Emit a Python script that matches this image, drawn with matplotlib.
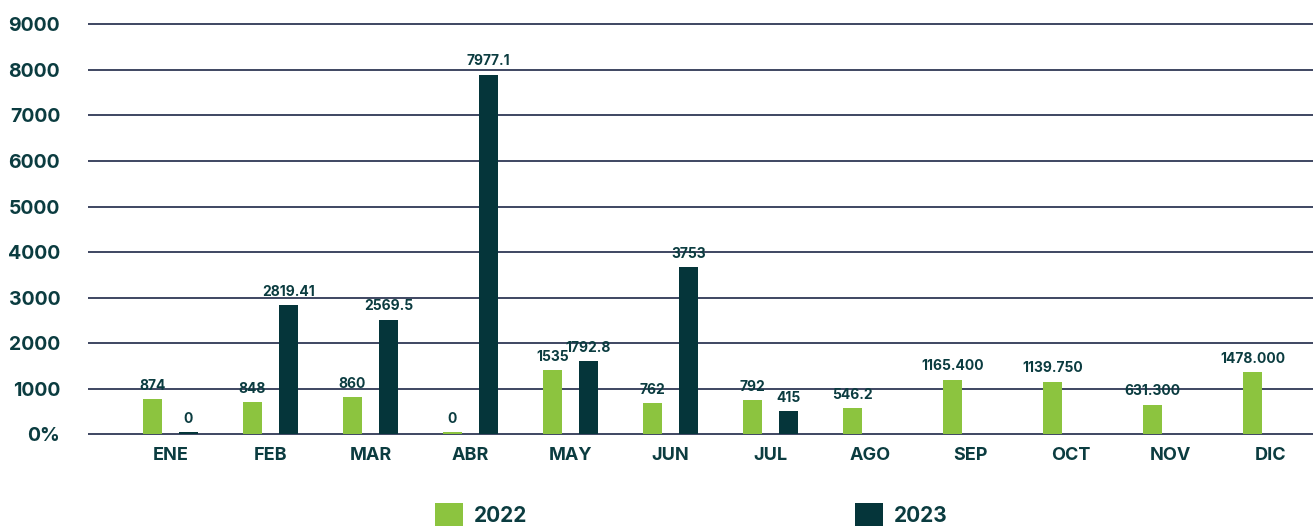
import matplotlib
matplotlib.use("Agg")
import matplotlib.pyplot as plt
import numpy as np

months = ["ENE", "FEB", "MAR", "ABR", "MAY", "JUN", "JUL", "AGO", "SEP", "OCT", "NOV", "DIC"]
# bar heights as drawn in the picture
values_2022 = [775, 709, 818, 50, 1410, 686, 752, 577, 1198, 1155, 651, 1370]
values_2023 = [55, 2834, 2516, 7895, 1598, 3677, 511]
# value labels as printed on the picture
labels_2022 = ["874", "848", "860", "0", "1535", "762", "792", "546.2",
               "1165.400", "1139.750", "631.300", "1478.000"]
labels_2023 = ["0", "2819.41", "2569.5", "7977.1", "1792.8", "3753", "415"]
yticks = [0, 1000, 2000, 3000, 4000, 5000, 6000, 7000, 8000, 9000]
ytick_labels = ["0%", "1000", "2000", "3000", "4000", "5000", "6000", "7000", "8000", "9000"]
series_names = ["2022", "2023"]

GREEN = "#8cc43f"
DARK = "#05353a"
TEXT = "#0b3c40"
GRID = "#1e2747"

plt.rcParams['font.family'] = ['Inter', 'DejaVu Sans']

fig = plt.figure(figsize=(13.13, 5.26), dpi=100)
ax = fig.add_axes([88 / 1313, 89.9 / 526, 1 - 88 / 1313, (436.1 - 22.5) / 526])

x = np.arange(len(months))
off = 0.18
w = 0.19
b1 = ax.bar(x[:len(values_2022)] - off, values_2022, width=w, color=GREEN, label=series_names[0], zorder=3)
b2 = ax.bar(x[:len(values_2023)] + off, values_2023, width=w, color=DARK, label=series_names[1], zorder=3)

ax.bar_label(b1, labels=labels_2022, padding=4.5, fontsize=10, fontweight='bold', color=TEXT)
ax.bar_label(b2, labels=labels_2023, padding=4.5, fontsize=10, fontweight='bold', color=TEXT)

ax.set_xlim(-0.825, 11.425)
ax.set_ylim(-40, 9040)
ax.set_yticks(yticks)
ax.set_yticklabels(ytick_labels)
ax.set_xticks(x)
ax.set_xticklabels(months)

for s in ax.spines.values():
    s.set_visible(False)
ax.yaxis.grid(True, color=GRID, linewidth=1.2, zorder=0)
ax.set_axisbelow(True)
ax.tick_params(axis='both', length=0)
ax.tick_params(axis='y', pad=20, labelsize=14, labelcolor=TEXT)
ax.tick_params(axis='x', pad=8, labelsize=13, labelcolor=TEXT)
for t in ax.get_yticklabels() + ax.get_xticklabels():
    t.set_fontweight('bold')

leg = fig.legend(handles=[b1, b2], labels=series_names, loc='upper left',
                 bbox_to_anchor=(435 / 1313, (526 - 503) / 526), ncol=2, frameon=False,
                 borderpad=0, borderaxespad=0, handlelength=1.35, handleheight=1.35,
                 handletextpad=0.53, columnspacing=15.7,
                 prop={'size': 15, 'weight': 'bold'})
for t in leg.get_texts():
    t.set_color(TEXT)

fig.savefig("out.png", dpi=100)
